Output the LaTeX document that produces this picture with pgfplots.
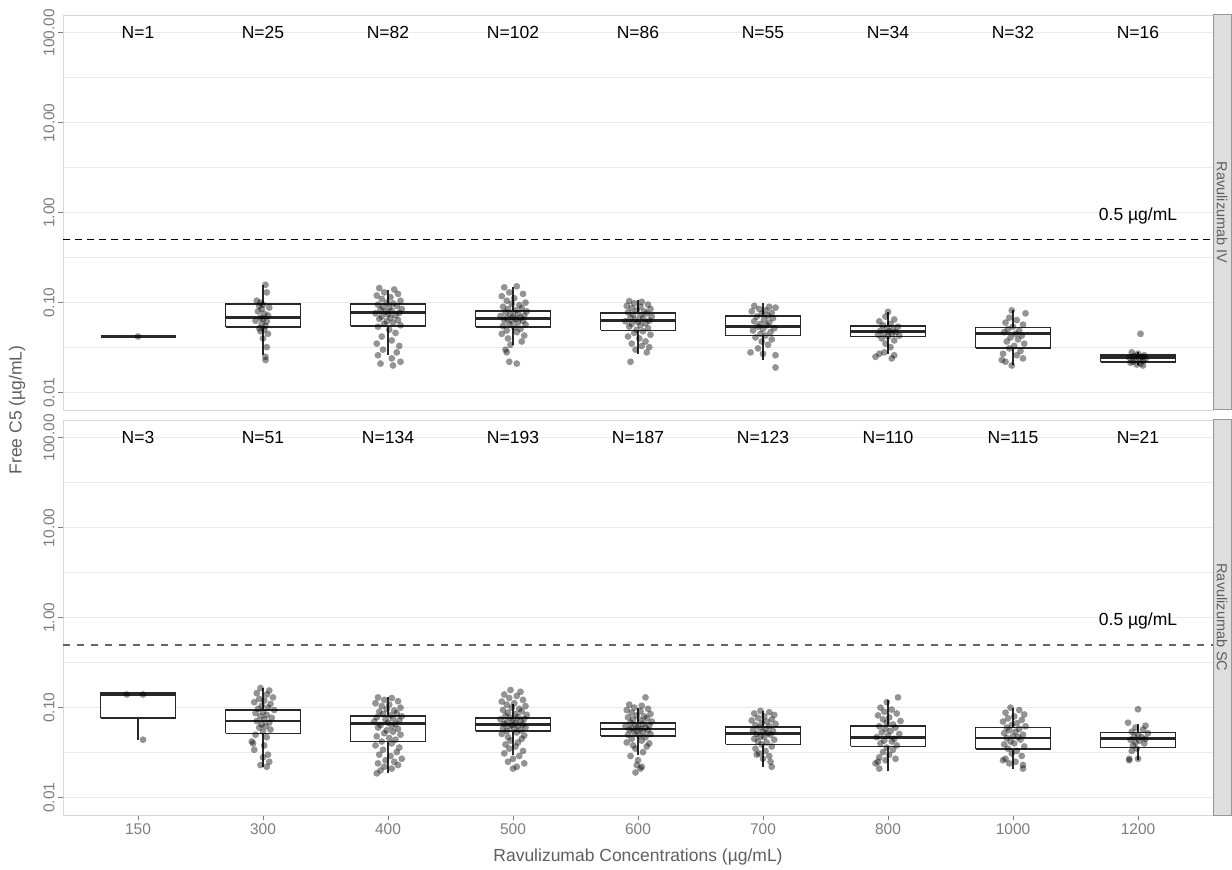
\documentclass[border=0pt]{standalone}
\usepackage{pgfplots}
\pgfplotsset{compat=1.18}
\usepackage{fontspec}
\setmainfont{Liberation Sans}
\definecolor{gridc}{RGB}{234,234,234}
\definecolor{framec}{RGB}{215,215,215}
\definecolor{tickc}{RGB}{125,125,125}
\definecolor{titlec}{RGB}{95,95,95}
\definecolor{stripc}{RGB}{222,222,222}
\definecolor{stripb}{RGB}{150,150,150}
\definecolor{boxc}{RGB}{40,40,40}
\tikzset{
 nlab/.style={font=\fontsize{17.5}{20}\selectfont, text=black},
}
% box: position, lower whisker, lower quartile, median, upper quartile, upper whisker
\newcommand{\bx}[6]{%
 \addplot[draw=boxc, line width=1.8pt, mark=none] coordinates {(#1,#2) (#1,#3)};
 \addplot[draw=boxc, line width=1.8pt, mark=none] coordinates {(#1,#5) (#1,#6)};
 \addplot[draw=boxc, line width=1.8pt, mark=none, fill=white] coordinates {({#1-0.3},#3) ({#1+0.3},#3) ({#1+0.3},#5) ({#1-0.3},#5) ({#1-0.3},#3)};
 \addplot[draw=boxc, line width=2.8pt, mark=none] coordinates {({#1-0.3},#4) ({#1+0.3},#4)};
}
\begin{document}
\begin{tikzpicture}
\useasboundingbox (0,0) rectangle (1232pt,870pt);
% ---------------- Ravulizumab IV ----------------
\begin{axis}[at={(63pt,460pt)}, anchor=south west,
  width=1150pt, height=395pt, scale only axis,
  ymode=log, ymin=0.0064, ymax=158, xmin=-0.6, xmax=8.6,
  xtick=\empty,
  ytick={0.01,0.1,1,10,100}, yticklabels={0.01,0.10,1.00,10.00,100.00},
  minor ytick={0.0316,0.316,3.16,31.6},
  ymajorgrids, yminorgrids,
  major grid style={draw=gridc, line width=1.2pt},
  minor grid style={draw=gridc, line width=1pt},
  axis line style={draw=framec, line width=0.9pt},
  tick pos=left, tick align=outside,
  major tick length=5pt, minor tick length=0pt,
  tick style={draw=tickc, line width=0.8pt},
  yticklabel style={rotate=90, anchor=south, font=\fontsize{15.5}{17}\selectfont, text=tickc},
  clip=false]
\bx{0}{0.042}{0.042}{0.042}{0.042}{0.042}
\bx{1}{0.026}{0.054}{0.068}{0.0975}{0.158}
\bx{2}{0.026}{0.055}{0.077}{0.096}{0.137}
\bx{3}{0.034}{0.054}{0.067}{0.081}{0.15}
\bx{4}{0.027}{0.049}{0.063}{0.076}{0.106}
\bx{5}{0.023}{0.043}{0.054}{0.071}{0.099}
\bx{6}{0.027}{0.042}{0.048}{0.055}{0.079}
\bx{7}{0.020}{0.031}{0.045}{0.053}{0.082}
\bx{8}{0.020}{0.022}{0.0244}{0.0263}{0.028}
\addplot[only marks, mark=*, mark size=3.4pt, black, mark options={draw opacity=0, fill opacity=0.42}] table {
x y
0.00 0.042
1.02 0.158
1.03 0.13
0.95 0.105
0.98 0.10
1.00 0.095
0.97 0.092
1.05 0.088
0.99 0.085
0.96 0.08
1.01 0.075
1.04 0.072
0.98 0.068
1.00 0.066
0.94 0.063
1.03 0.062
0.99 0.058
1.02 0.055
0.97 0.052
1.01 0.05
0.98 0.048
1.04 0.045
1.00 0.04
1.03 0.032
1.02 0.025
1.02 0.023
1.93 0.145
2.05 0.14
1.97 0.13
2.08 0.125
1.91 0.12
2.02 0.115
1.95 0.11
2.10 0.105
1.99 0.10
2.04 0.098
1.92 0.095
2.07 0.092
1.96 0.09
2.01 0.088
2.11 0.085
1.94 0.083
2.03 0.081
1.98 0.079
2.09 0.077
1.90 0.076
2.00 0.074
2.06 0.072
1.95 0.07
2.02 0.068
1.93 0.066
2.08 0.064
1.99 0.062
2.04 0.06
1.97 0.058
2.10 0.056
1.92 0.054
2.01 0.05
2.06 0.046
1.95 0.042
2.03 0.038
1.91 0.035
2.09 0.033
1.96 0.03
2.07 0.028
1.92 0.026
2.03 0.024
2.10 0.022
2.04 0.020
1.94 0.021
2.93 0.148
3.03 0.152
2.97 0.13
3.08 0.125
2.91 0.118
3.01 0.112
2.95 0.105
3.10 0.10
2.99 0.097
3.05 0.094
2.92 0.09
3.07 0.087
2.96 0.085
3.02 0.082
3.11 0.08
2.94 0.078
3.04 0.076
2.98 0.074
3.09 0.072
2.90 0.071
3.00 0.07
3.06 0.068
2.95 0.067
3.02 0.066
2.93 0.064
3.08 0.063
2.99 0.062
3.04 0.06
2.97 0.058
3.10 0.057
2.92 0.055
3.01 0.053
3.06 0.051
2.95 0.049
3.03 0.047
2.91 0.045
3.09 0.043
2.96 0.04
3.07 0.037
2.98 0.034
2.94 0.03
2.95 0.028
2.97 0.022
3.03 0.021
3.93 0.104
4.03 0.102
3.97 0.098
4.08 0.095
3.91 0.092
4.02 0.09
3.95 0.087
4.10 0.085
3.99 0.082
4.05 0.08
3.92 0.078
4.07 0.076
3.96 0.074
4.02 0.072
4.11 0.07
3.94 0.068
4.04 0.067
3.98 0.065
4.09 0.063
3.90 0.062
4.00 0.061
4.06 0.059
3.95 0.058
4.02 0.056
3.93 0.054
4.08 0.052
3.99 0.05
4.04 0.048
3.97 0.046
4.10 0.044
3.92 0.042
4.01 0.04
4.06 0.037
3.95 0.035
4.03 0.033
3.98 0.03
4.09 0.032
4.07 0.028
3.94 0.022
4.93 0.092
5.05 0.09
5.10 0.088
4.97 0.085
5.02 0.082
4.91 0.08
5.07 0.077
4.99 0.075
5.04 0.072
4.95 0.07
5.08 0.067
5.01 0.065
4.93 0.062
5.05 0.06
4.98 0.058
5.03 0.056
4.96 0.054
5.09 0.052
5.00 0.051
4.92 0.049
5.06 0.047
4.98 0.045
5.02 0.043
4.94 0.041
5.07 0.039
4.99 0.037
5.04 0.034
4.96 0.031
4.90 0.028
5.00 0.027
5.10 0.026
5.10 0.019
6.00 0.079
5.98 0.07
6.05 0.065
5.93 0.062
6.02 0.058
5.96 0.056
6.08 0.054
5.99 0.052
6.04 0.05
5.94 0.049
6.01 0.048
6.06 0.047
5.97 0.046
6.03 0.045
5.92 0.044
6.09 0.043
6.00 0.042
5.95 0.04
6.05 0.038
5.98 0.035
6.02 0.032
5.93 0.027
5.90 0.025
6.05 0.026
6.03 0.024
5.97 0.028
6.99 0.082
7.10 0.076
6.97 0.068
7.03 0.064
6.94 0.06
7.08 0.057
7.00 0.054
6.96 0.051
7.05 0.049
6.93 0.047
7.02 0.045
7.07 0.043
6.98 0.041
7.04 0.039
6.95 0.037
7.09 0.035
7.01 0.033
6.97 0.031
7.06 0.029
6.92 0.027
7.03 0.026
6.91 0.023
6.94 0.022
6.99 0.02
7.08 0.024
8.02 0.045
7.95 0.028
8.00 0.027
8.05 0.026
7.97 0.0255
8.03 0.025
7.93 0.0245
8.01 0.024
8.06 0.0235
7.98 0.023
8.04 0.0225
7.96 0.022
8.02 0.021
7.99 0.0205
8.04 0.020
7.94 0.0215
};
\addplot[black, line width=1.2pt, dash pattern=on 7pt off 5pt, mark=none] coordinates {(-0.6,0.5) (8.6,0.5)};
\node[nlab] at (axis cs:8,0.92) {0.5 µg/mL};
\node[nlab] at (axis cs:0,100) {N=1};
\node[nlab] at (axis cs:1,100) {N=25};
\node[nlab] at (axis cs:2,100) {N=82};
\node[nlab] at (axis cs:3,100) {N=102};
\node[nlab] at (axis cs:4,100) {N=86};
\node[nlab] at (axis cs:5,100) {N=55};
\node[nlab] at (axis cs:6,100) {N=34};
\node[nlab] at (axis cs:7,100) {N=32};
\node[nlab] at (axis cs:8,100) {N=16};
\draw[fill=stripc, draw=stripb, line width=1pt] (rel axis cs:1,0) rectangle ([xshift=18pt]rel axis cs:1,1);
\node[rotate=-90, font=\fontsize{14.5}{16}\selectfont, text=titlec] at ([xshift=9pt]rel axis cs:1,0.5) {Ravulizumab IV};
\end{axis}
% ---------------- Ravulizumab SC ----------------
\begin{axis}[at={(63pt,55pt)}, anchor=south west,
  width=1150pt, height=395pt, scale only axis,
  ymode=log, ymin=0.0064, ymax=158, xmin=-0.6, xmax=8.6,
  xtick={0,1,2,3,4,5,6,7,8}, xticklabels={150,300,400,500,600,700,800,1000,1200},
  ytick={0.01,0.1,1,10,100}, yticklabels={0.01,0.10,1.00,10.00,100.00},
  minor ytick={0.0316,0.316,3.16,31.6},
  ymajorgrids, yminorgrids,
  major grid style={draw=gridc, line width=1.2pt},
  minor grid style={draw=gridc, line width=1pt},
  axis line style={draw=framec, line width=0.9pt},
  tick pos=left, tick align=outside,
  major tick length=5pt, minor tick length=0pt,
  tick style={draw=tickc, line width=0.8pt},
  yticklabel style={rotate=90, anchor=south, font=\fontsize{15.5}{17}\selectfont, text=tickc},
  xticklabel style={font=\fontsize{15.5}{17}\selectfont, text=tickc},
  clip=false]
\bx{0}{0.044}{0.076}{0.14}{0.146}{0.146}
\bx{1}{0.022}{0.0516}{0.071}{0.094}{0.165}
\bx{2}{0.0186}{0.042}{0.067}{0.080}{0.13}
\bx{3}{0.030}{0.055}{0.065}{0.077}{0.11}
\bx{4}{0.030}{0.048}{0.058}{0.068}{0.10}
\bx{5}{0.022}{0.039}{0.052}{0.061}{0.092}
\bx{6}{0.020}{0.037}{0.047}{0.062}{0.123}
\bx{7}{0.021}{0.0345}{0.046}{0.060}{0.10}
\bx{8}{0.026}{0.036}{0.045}{0.053}{0.065}
\addplot[only marks, mark=*, mark size=3.4pt, black, mark options={draw opacity=0, fill opacity=0.42}] table {
x y
-0.09 0.14
0.04 0.14
0.04 0.044
0.98 0.165
1.05 0.155
0.95 0.145
1.03 0.14
1.08 0.13
0.97 0.125
1.01 0.12
0.93 0.115
1.06 0.11
0.99 0.105
1.04 0.1
0.96 0.097
1.09 0.094
1.00 0.09
0.94 0.087
1.03 0.083
0.98 0.08
1.07 0.077
1.01 0.074
0.95 0.071
1.05 0.068
0.99 0.065
1.02 0.062
0.97 0.06
1.06 0.057
1.00 0.054
0.94 0.05
1.03 0.047
0.91 0.042
0.92 0.04
1.01 0.038
0.93 0.034
1.04 0.03
1.00 0.028
0.98 0.023
1.03 0.022
1.05 0.025
1.92 0.13
2.03 0.128
1.97 0.122
2.08 0.118
1.90 0.112
2.01 0.108
1.95 0.104
2.10 0.1
1.99 0.096
2.05 0.093
1.93 0.09
2.07 0.087
1.96 0.085
2.02 0.082
2.11 0.08
1.91 0.078
2.04 0.076
1.98 0.074
2.09 0.072
1.89 0.07
2.00 0.068
2.06 0.066
1.94 0.064
2.03 0.062
1.92 0.06
2.08 0.058
1.99 0.056
2.04 0.054
1.97 0.052
2.10 0.05
1.91 0.048
2.01 0.046
2.06 0.044
1.95 0.042
2.03 0.04
1.90 0.038
2.09 0.036
1.96 0.034
2.07 0.032
1.93 0.03
2.02 0.029
2.11 0.027
1.98 0.026
2.05 0.025
1.92 0.024
2.08 0.023
1.97 0.022
2.03 0.021
1.94 0.02
1.91 0.0186
2.98 0.157
3.06 0.15
2.93 0.14
3.03 0.135
2.97 0.128
3.08 0.122
2.91 0.117
3.01 0.112
2.95 0.108
3.10 0.104
2.99 0.1
3.05 0.097
2.92 0.094
3.07 0.091
2.96 0.088
3.02 0.085
3.11 0.083
2.94 0.081
3.04 0.079
2.98 0.077
3.09 0.075
2.90 0.074
3.00 0.072
3.06 0.071
2.95 0.069
3.02 0.068
2.93 0.066
3.08 0.065
2.99 0.064
3.04 0.063
2.97 0.062
3.10 0.06
2.92 0.059
3.01 0.058
3.06 0.056
2.95 0.055
3.03 0.053
2.91 0.051
3.09 0.049
2.96 0.047
3.07 0.045
2.98 0.043
3.04 0.041
2.94 0.039
3.02 0.037
2.97 0.035
3.08 0.033
2.93 0.031
3.05 0.029
3.00 0.027
2.96 0.025
3.09 0.024
3.03 0.022
3.00 0.021
4.06 0.13
3.93 0.108
4.03 0.105
3.97 0.1
4.08 0.097
3.91 0.094
4.02 0.091
3.95 0.088
4.10 0.085
3.99 0.082
4.05 0.08
3.92 0.078
4.07 0.076
3.96 0.074
4.02 0.072
4.11 0.07
3.94 0.068
4.04 0.066
3.98 0.064
4.09 0.063
3.90 0.062
4.00 0.061
4.06 0.06
3.95 0.059
4.02 0.058
3.93 0.057
4.08 0.056
3.99 0.055
4.04 0.054
3.97 0.053
4.10 0.051
3.92 0.05
4.01 0.049
4.06 0.047
3.95 0.045
4.03 0.043
3.91 0.041
4.09 0.04
3.96 0.038
4.07 0.037
3.98 0.035
4.04 0.032
3.94 0.029
4.00 0.026
3.99 0.023
4.03 0.022
3.98 0.019
4.02 0.021
4.98 0.092
5.05 0.089
4.93 0.086
5.09 0.083
5.01 0.08
4.96 0.077
5.07 0.074
4.91 0.072
5.03 0.07
4.99 0.068
5.10 0.066
4.94 0.064
5.05 0.062
4.97 0.06
5.02 0.058
4.92 0.056
5.08 0.055
5.00 0.054
5.04 0.052
4.95 0.051
5.06 0.05
4.98 0.048
5.01 0.047
4.93 0.045
5.09 0.044
4.96 0.042
5.03 0.041
4.99 0.039
5.07 0.037
4.94 0.035
5.02 0.033
4.97 0.031
5.05 0.029
5.00 0.027
5.06 0.025
5.07 0.022
4.95 0.03
6.08 0.13
5.99 0.115
5.94 0.1
6.03 0.095
5.97 0.09
6.07 0.086
5.92 0.082
6.01 0.078
5.96 0.074
6.10 0.071
5.99 0.068
6.04 0.065
5.93 0.062
6.06 0.06
5.98 0.058
6.02 0.055
5.95 0.053
6.09 0.051
6.00 0.049
5.91 0.047
6.05 0.045
5.97 0.043
6.03 0.042
5.94 0.04
6.07 0.038
5.99 0.036
6.04 0.034
5.96 0.032
6.01 0.03
5.93 0.028
6.06 0.027
5.92 0.025
5.90 0.024
5.93 0.021
5.98 0.026
6.98 0.1
7.05 0.094
6.94 0.088
7.09 0.084
7.01 0.08
6.96 0.076
7.07 0.073
6.92 0.07
7.03 0.067
6.99 0.064
7.10 0.062
6.95 0.06
7.05 0.058
6.97 0.056
7.02 0.054
6.93 0.052
7.08 0.05
7.00 0.048
7.04 0.047
6.95 0.046
7.06 0.044
6.98 0.042
7.01 0.04
6.93 0.039
7.09 0.037
6.96 0.035
7.03 0.033
6.99 0.031
7.07 0.029
6.94 0.027
7.02 0.025
6.97 0.024
7.08 0.023
7.08 0.021
6.92 0.026
8.00 0.096
7.92 0.068
8.06 0.063
7.98 0.06
8.04 0.057
7.95 0.054
8.08 0.052
8.00 0.05
7.97 0.048
8.03 0.047
8.06 0.045
7.94 0.044
8.01 0.043
7.98 0.041
8.05 0.04
7.96 0.038
7.99 0.035
7.95 0.033
7.93 0.027
7.93 0.026
8.00 0.027
};
\addplot[black!60, line width=2pt, dash pattern=on 7pt off 7pt, mark=none] coordinates {(-0.6,0.5) (8.6,0.5)};
\node[nlab] at (axis cs:8,0.92) {0.5 µg/mL};
\node[nlab] at (axis cs:0,100) {N=3};
\node[nlab] at (axis cs:1,100) {N=51};
\node[nlab] at (axis cs:2,100) {N=134};
\node[nlab] at (axis cs:3,100) {N=193};
\node[nlab] at (axis cs:4,100) {N=187};
\node[nlab] at (axis cs:5,100) {N=123};
\node[nlab] at (axis cs:6,100) {N=110};
\node[nlab] at (axis cs:7,100) {N=115};
\node[nlab] at (axis cs:8,100) {N=21};
\draw[fill=stripc, draw=stripb, line width=1pt] (rel axis cs:1,0) rectangle ([xshift=18pt]rel axis cs:1,1);
\node[rotate=-90, font=\fontsize{14.5}{16}\selectfont, text=titlec] at ([xshift=9pt]rel axis cs:1,0.5) {Ravulizumab SC};
\end{axis}
\node[rotate=90, font=\fontsize{17.5}{20}\selectfont, text=titlec] at (17pt,460pt) {Free C5 (µg/mL)};
\node[font=\fontsize{17.5}{20}\selectfont, text=titlec] at (638pt,13pt) {Ravulizumab Concentrations (µg/mL)};
\end{tikzpicture}
\end{document}
